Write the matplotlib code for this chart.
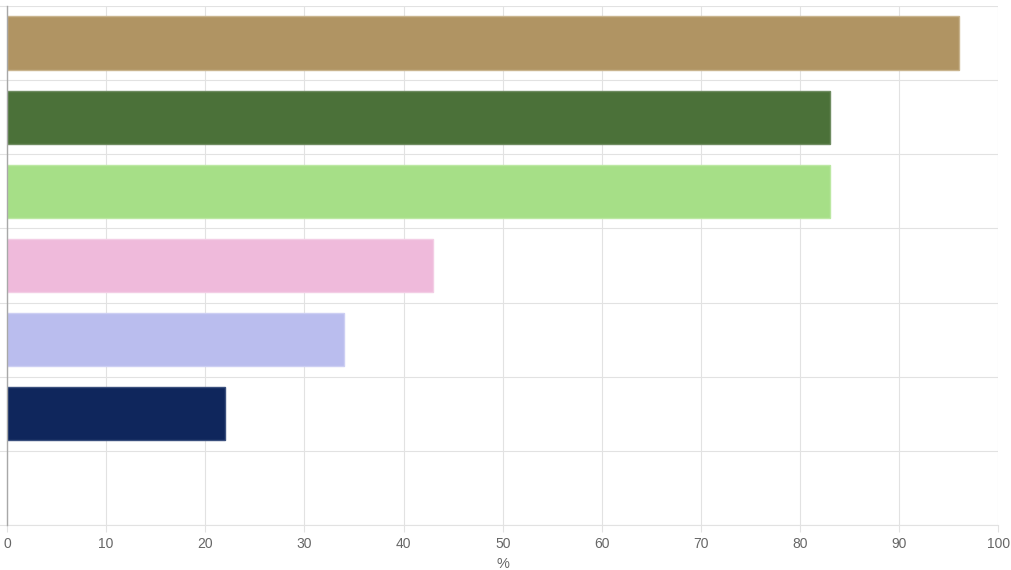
import matplotlib
matplotlib.use("Agg")
import matplotlib.pyplot as plt
from matplotlib.ticker import FixedLocator

categories = ["A", "B", "C", "D", "E", "F", "G"]
values = [96, 83, 83, 43, 34, 22, 0]
colors = ["#b09463", "#4b7139", "#a6df87", "#efbadb", "#babdee", "#0f265c", "#ffffff"]
edge_colors = ["#c9b48e", "#6f8c61", "#bce8a3", "#f3cde5", "#cdcff3", "#3a4f7d", "#ffffff"]
x_ticks = [0, 10, 20, 30, 40, 50, 60, 70, 80, 90, 100]

plt.rcParams["font.family"] = ["Liberation Sans", "DejaVu Sans"]

fig = plt.figure(figsize=(10.11, 5.70), dpi=100)
W, H = 1011, 570
ax = fig.add_axes([7 / W, (H - 525) / H, (998.5 - 7) / W, (525 - 6) / H])

n = len(categories)
pos = list(range(n))
ax.barh(pos[:6], values[:6], height=0.72, color=colors[:6], edgecolor=edge_colors[:6],
        linewidth=1.0, zorder=3)

ax.set_ylim(n - 0.5, -0.5)
ax.set_xlim(0, 100)
ax.set_xticks(x_ticks)
ax.set_xticklabels([str(t) for t in x_ticks], color="#666666", fontsize=10)
ax.set_yticks([])
ax.yaxis.set_minor_locator(FixedLocator([i - 0.5 for i in range(n + 1)]))
ax.tick_params(axis="y", which="minor", length=7, color="#e2e2e2", width=0.8)
ax.tick_params(axis="x", length=5, color="#e2e2e2", width=0.8, pad=4)

ax.grid(axis="x", color="#e2e2e2", linewidth=0.8, zorder=0)
ax.grid(axis="y", which="minor", color="#e2e2e2", linewidth=0.8, zorder=0)

for s in ["top", "right"]:
    ax.spines[s].set_visible(False)
ax.spines["bottom"].set_color("#e2e2e2")
ax.spines["bottom"].set_linewidth(0.8)
ax.spines["left"].set_color("#a8a8a8")
ax.spines["left"].set_linewidth(1.0)
ax.spines["left"].set_zorder(4)

ax.set_xlabel("%", color="#666666", fontsize=10.5, labelpad=4)

fig.savefig("out.png", dpi=100)
